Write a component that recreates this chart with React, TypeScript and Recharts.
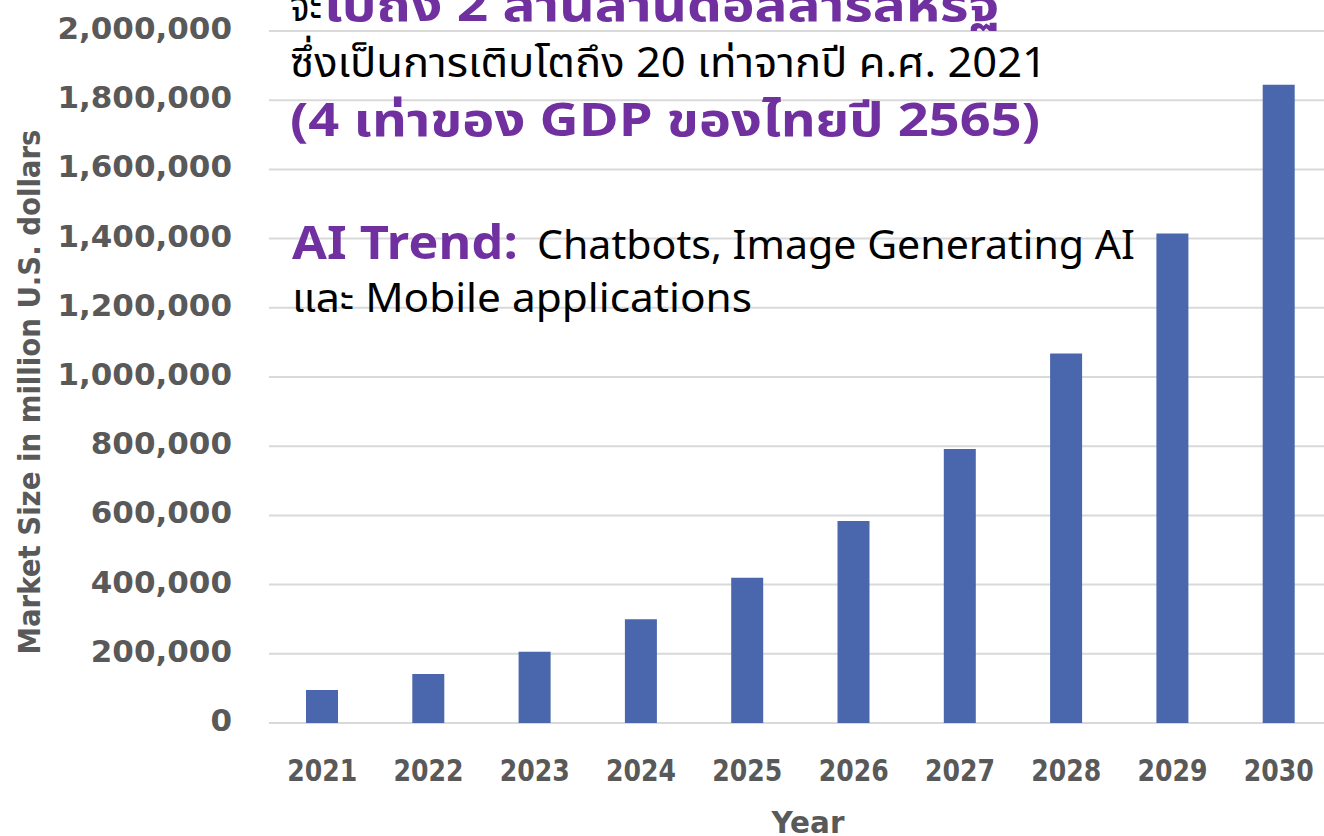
import React from "react";
import { BarChart, Bar, XAxis, YAxis, CartesianGrid } from "recharts";

const years = ["2021", "2022", "2023", "2024", "2025", "2026", "2027", "2028", "2029", "2030"];
const marketSize = [95600, 141800, 206000, 299500, 419500, 584000, 792000, 1068000, 1415000, 1845000];
const yTicks = [0, 200000, 400000, 600000, 800000, 1000000, 1200000, 1400000, 1600000, 1800000, 2000000];

const yTitle = "Market Size in million U.S. dollars";
const xTitle = "Year";
const line1a = "จะ";
const line1b = "ไปถึง 2 ล้านล้านดอลลาร์สหรัฐ";
const line2 = "ซึ่งเป็นการเติบโตถึง 20 เท่าจากปี ค.ศ. 2021";
const line3 = "(4 เท่าของ GDP ของไทยปี 2565)";
const line4a = "AI Trend:";
const line4b = "Chatbots, Image Generating AI";
const line5 = "และ Mobile applications";

const data = years.map((y, i) => ({ year: y, value: marketSize[i] }));

const AXIS_FONT = "'DejaVu Sans', Verdana, sans-serif";
const THAI_FONT = "'Noto Sans Thai', 'Noto Sans Thai UI', Kanit, Prompt, 'Noto Sans', 'DejaVu Sans', sans-serif";
const GRAY = "#595959";
const PURPLE = "#7030A0";

const fmt = (v: number) => v.toLocaleString("en-US");

const YTick = (props: any) => {
  const { x, y, payload } = props;
  return (
    <text x={x} y={y} dy={8} textAnchor="end" fontFamily={AXIS_FONT} fontWeight="bold" fontSize={31} fill={GRAY}>
      {fmt(payload.value)}
    </text>
  );
};

const XTick = (props: any) => {
  const { x, y, payload } = props;
  return (
    <text x={x} y={y} dy={58} textAnchor="middle" fontFamily={AXIS_FONT} fontWeight="bold" fontSize={31} fill={GRAY} textLength={70} lengthAdjust="spacingAndGlyphs">
      {payload.value}
    </text>
  );
};

export default function App() {
  return (
    <div style={{ position: "fixed", left: 0, top: 0, width: 1324, height: 836, overflow: "hidden", background: "#ffffff" }}>
      <BarChart width={1332} height={836} data={data} margin={{ top: 31, right: 0, bottom: 0, left: 0 }} barSize={32}>
        <CartesianGrid vertical={false} stroke="#d9d9d9" strokeWidth={2} />
        <XAxis dataKey="year" axisLine={false} tickLine={false} tickSize={0} tickMargin={0} height={113} interval={0} tick={<XTick />} />
        <YAxis width={269} domain={[0, 2000000]} ticks={yTicks} interval={0} axisLine={false} tickLine={false} tickSize={0} tickMargin={37} tick={<YTick />} />
        <Bar dataKey="value" fill="#4A66AC" isAnimationActive={false} />
      </BarChart>
      <svg width={1324} height={836} style={{ position: "absolute", left: 0, top: 0, pointerEvents: "none" }}>
        <text transform="translate(40,392) rotate(-90)" textAnchor="middle" fontFamily={AXIS_FONT} fontWeight="bold" fontSize={30} fill={GRAY} textLength={525} lengthAdjust="spacingAndGlyphs">
          {yTitle}
        </text>
        <text x={808} y={833} textAnchor="middle" fontFamily={AXIS_FONT} fontWeight="bold" fontSize={30} fill={GRAY} textLength={73} lengthAdjust="spacingAndGlyphs">
          {xTitle}
        </text>
        <g fontFamily={THAI_FONT}>
          <text x={290} y={21} fontSize={42} fill="#000" textLength={32} lengthAdjust="spacingAndGlyphs">{line1a}</text>
          <text x={323} y={21} fontSize={46} fontWeight="bold" fill={PURPLE} textLength={677} lengthAdjust="spacingAndGlyphs">{line1b}</text>
          <text x={290} y={77} fontSize={41} fill="#000" textLength={757} lengthAdjust="spacingAndGlyphs">{line2}</text>
          <text x={290} y={136} fontSize={46} fontWeight="bold" fill={PURPLE} textLength={750} lengthAdjust="spacingAndGlyphs">{line3}</text>
          <text x={292} y={259} fontSize={46} fontWeight="bold" fill={PURPLE} textLength={226} lengthAdjust="spacingAndGlyphs">{line4a}</text>
          <text x={537} y={259} fontSize={40} fill="#000" textLength={598} lengthAdjust="spacingAndGlyphs">{line4b}</text>
          <text x={292} y={312} fontSize={40} fill="#000" textLength={460} lengthAdjust="spacingAndGlyphs">{line5}</text>
        </g>
      </svg>
    </div>
  );
}
